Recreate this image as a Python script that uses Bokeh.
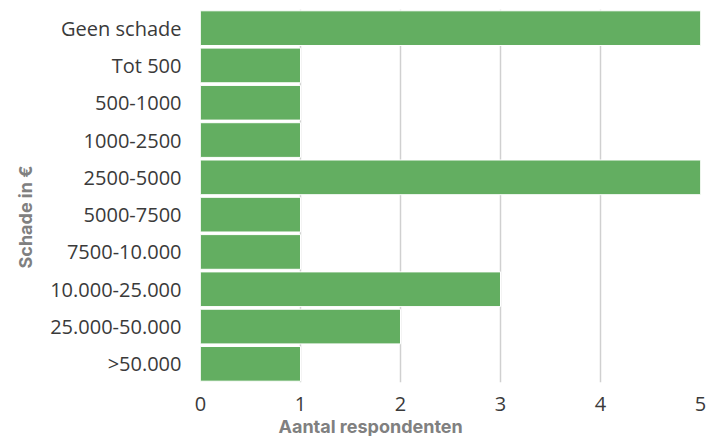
from bokeh.plotting import figure
from bokeh.models import FactorRange, Range1d, FixedTicker, Title
from bokeh.embed import file_html
from bokeh.resources import INLINE

categories = ["Geen schade", "Tot 500", "500-1000", "1000-2500", "2500-5000",
              "5000-7500", "7500-10.000", "10.000-25.000", "25.000-50.000", ">50.000"]
counts = [5, 1, 1, 1, 5, 1, 1, 3, 2, 1]
x_ticks = [0, 1, 2, 3, 4, 5]
x_title = "Aantal respondenten"
y_title = "Schade in €"

p = figure(y_range=FactorRange(*reversed(categories), range_padding=0),
           x_range=Range1d(0, 5),
           frame_width=500, frame_height=373,
           min_border_left=200, min_border_right=16, min_border_top=9, min_border_bottom=50,
           output_backend="svg", toolbar_location=None)

p.hbar(y=categories, right=counts, left=0, height=0.93,
       fill_color="#63ae61", line_color="white", line_width=1)

p.outline_line_color = None
p.ygrid.grid_line_color = None
p.xgrid.grid_line_color = "#d0d0d0"
p.xgrid.grid_line_width = 1.5
p.xaxis.ticker = FixedTicker(ticks=x_ticks)

for ax in (p.xaxis, p.yaxis):
    ax.axis_line_color = None
    ax.major_tick_line_color = None
    ax.minor_tick_line_color = None
    ax.major_label_text_font = "Open Sans"
    ax.major_label_text_font_size = "20px"
    ax.major_label_text_color = "#3a3a3a"

p.yaxis.major_label_standoff = 13
p.xaxis.major_label_standoff = 8

title_style = dict(text_font="Inter", text_font_style="bold", text_font_size="18px",
                   text_color="#808080", align="left")
p.add_layout(Title(text=x_title, offset=78, standoff=0, **title_style), "below")
p.add_layout(Title(text=y_title, offset=114, standoff=24, **title_style), "left")

open("out.html", "w").write(file_html(p, INLINE))
